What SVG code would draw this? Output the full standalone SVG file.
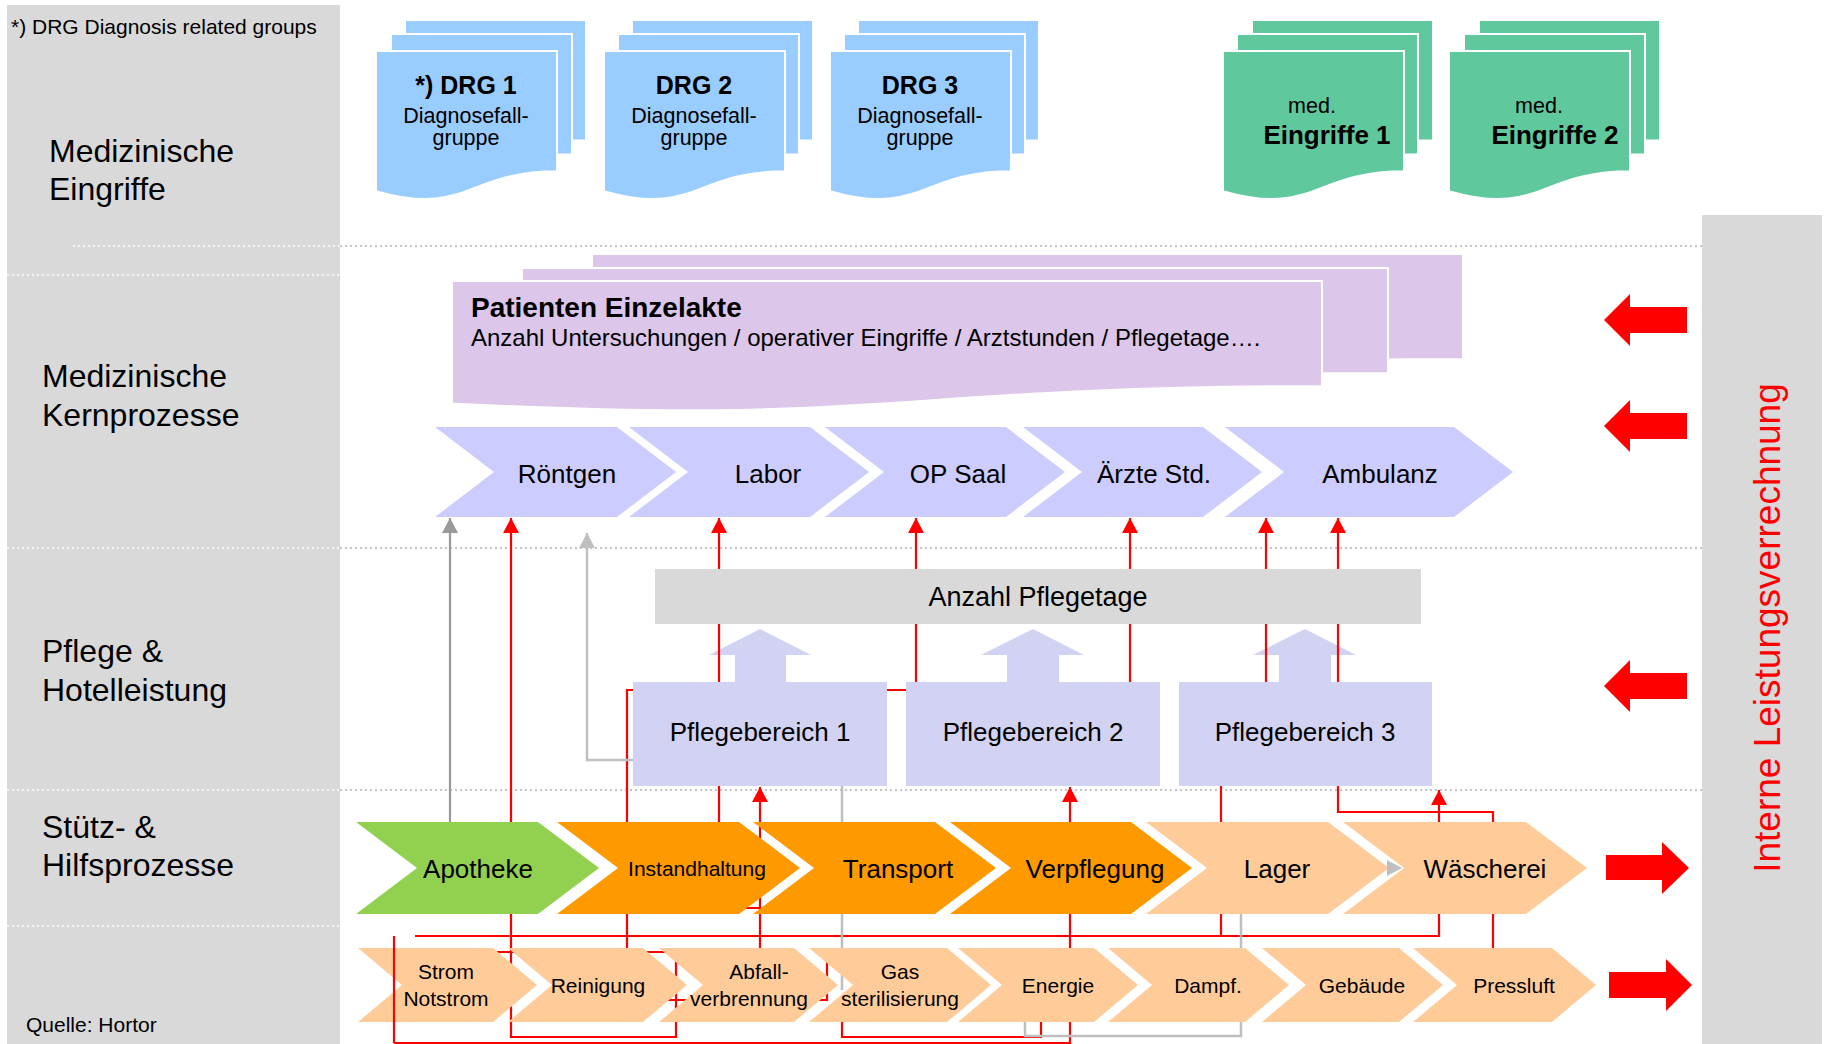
<svg xmlns="http://www.w3.org/2000/svg" width="1825" height="1044" viewBox="0 0 1825 1044">
<defs>
<style>
text{font-family:'Liberation Sans',Arial,Helvetica,sans-serif;fill:#000}
.lbl{font-size:32px}
.c{text-anchor:middle}
.b{font-weight:bold}
.dot{stroke-width:2;stroke-dasharray:2 3;fill:none}
.dw{stroke:#f4f4f4}
.dg{stroke:#c4c4c4}
.red{stroke:#ff0000;stroke-width:2.2;fill:none}
.gd{stroke:#999999;stroke-width:2.2;fill:none}
.gl{stroke:#bfbfbf;stroke-width:2.5;fill:none}
.blue{fill:#99ccff;stroke:#ffffff;stroke-width:2}
.green{fill:#5fc89c;stroke:#ffffff;stroke-width:2}
.purple{fill:#dcc6ea;stroke:#ffffff;stroke-width:2}
.core{fill:#ccccff}
.pb{fill:#d2d2f3}
.apo{fill:#92d050}
.ora{fill:#ff9900}
.pea{fill:#ffcc99}
.ra{fill:#ff0000}
.panel{fill:#d9d9d9}
</style>
<marker id="ar" viewBox="0 0 15 16" refX="15" refY="8" markerWidth="15" markerHeight="16" markerUnits="userSpaceOnUse" orient="auto"><path d="M0,0L15,8L0,16Z" fill="#ff0000"/></marker>
<marker id="ad" viewBox="0 0 15 16" refX="15" refY="8" markerWidth="15" markerHeight="16" markerUnits="userSpaceOnUse" orient="auto"><path d="M0,0L15,8L0,16Z" fill="#999999"/></marker>
<marker id="al" viewBox="0 0 15 16" refX="15" refY="8" markerWidth="15" markerHeight="16" markerUnits="userSpaceOnUse" orient="auto"><path d="M0,0L15,8L0,16Z" fill="#bfbfbf"/></marker>
</defs>

<rect width="1825" height="1044" fill="#ffffff"/>

<g id="panel-left">
<rect class="panel" x="7" y="5" width="333" height="1039"/>
<text x="11" y="34" font-size="21">*) DRG Diagnosis related groups</text>
<text class="lbl" x="49" y="162">Medizinische</text>
<text class="lbl" x="49" y="200">Eingriffe</text>
<text class="lbl" x="42" y="387">Medizinische</text>
<text class="lbl" x="42" y="426">Kernprozesse</text>
<text class="lbl" x="42" y="662">Pflege &amp;</text>
<text class="lbl" x="42" y="701">Hotelleistung</text>
<text class="lbl" x="42" y="838">Stütz- &amp;</text>
<text class="lbl" x="42" y="876">Hilfsprozesse</text>
<text x="26" y="1032" font-size="21">Quelle: Hortor</text>
</g>

<g id="panel-right">
<rect class="panel" x="1702" y="215" width="120" height="829"/>
<text transform="translate(1780,628) rotate(-90)" text-anchor="middle" font-size="37" style="fill:#ff0000">Interne Leistungsverrechnung</text>
</g>

<g id="separators">
<line class="dot dw" x1="73" y1="246" x2="340" y2="246"/>
<line class="dot dg" x1="340" y1="246" x2="1702" y2="246"/>
<line class="dot dw" x1="7" y1="275" x2="340" y2="275"/>
<line class="dot dw" x1="7" y1="548" x2="340" y2="548"/>
<line class="dot dg" x1="340" y1="548" x2="1702" y2="548"/>
<line class="dot dw" x1="7" y1="790" x2="340" y2="790"/>
<line class="dot dg" x1="340" y1="790" x2="1702" y2="790"/>
<line class="dot dw" x1="7" y1="926" x2="340" y2="926"/>
</g>

<g id="drg1">
<path class="blue" d="M405,20H586V140.3C495.5,140.3 495.5,186.1 405,160.1Z"/>
<path class="blue" d="M391,34H572V154.3C481.5,154.3 481.5,200.1 391,174.1Z"/>
<path class="blue" d="M376,51H557V171.3C466.5,171.3 466.5,217.1 376,191.1Z"/>
<text class="c b" x="466" y="94" font-size="25">*) DRG 1</text>
<text class="c" x="466" y="123" font-size="21.5">Diagnosefall-</text>
<text class="c" x="466" y="145" font-size="21.5">gruppe</text>
</g>
<g id="drg2">
<path class="blue" d="M632,20H813V140.3C722.5,140.3 722.5,186.1 632,160.1Z"/>
<path class="blue" d="M618,34H799V154.3C708.5,154.3 708.5,200.1 618,174.1Z"/>
<path class="blue" d="M604,51H785V171.3C694.5,171.3 694.5,217.1 604,191.1Z"/>
<text class="c b" x="694" y="94" font-size="25">DRG 2</text>
<text class="c" x="694" y="123" font-size="21.5">Diagnosefall-</text>
<text class="c" x="694" y="145" font-size="21.5">gruppe</text>
</g>
<g id="drg3">
<path class="blue" d="M858,20H1039V140.3C948.5,140.3 948.5,186.1 858,160.1Z"/>
<path class="blue" d="M844,34H1025V154.3C934.5,154.3 934.5,200.1 844,174.1Z"/>
<path class="blue" d="M830,51H1011V171.3C920.5,171.3 920.5,217.1 830,191.1Z"/>
<text class="c b" x="920" y="94" font-size="25">DRG 3</text>
<text class="c" x="920" y="123" font-size="21.5">Diagnosefall-</text>
<text class="c" x="920" y="145" font-size="21.5">gruppe</text>
</g>
<g id="eingriffe1">
<path class="green" d="M1252,20H1433V140.3C1342.5,140.3 1342.5,186.1 1252,160.1Z"/>
<path class="green" d="M1237,34H1418V154.3C1327.5,154.3 1327.5,200.1 1237,174.1Z"/>
<path class="green" d="M1223,51H1404V171.3C1313.5,171.3 1313.5,217.1 1223,191.1Z"/>
<text class="c" x="1312" y="113" font-size="21.5">med.</text>
<text class="c b" x="1327" y="144" font-size="26">Eingriffe 1</text>
</g>
<g id="eingriffe2">
<path class="green" d="M1479,20H1660V140.3C1569.5,140.3 1569.5,186.1 1479,160.1Z"/>
<path class="green" d="M1464,34H1645V154.3C1554.5,154.3 1554.5,200.1 1464,174.1Z"/>
<path class="green" d="M1449,51H1630V171.3C1539.5,171.3 1539.5,217.1 1449,191.1Z"/>
<text class="c" x="1539" y="113" font-size="21.5">med.</text>
<text class="c b" x="1555" y="144" font-size="26">Eingriffe 2</text>
</g>

<g id="patientenakte">
<path class="purple" d="M592,254H1463V359.1C1027.5,359.1 1027.5,399.1 592,376.4Z"/>
<path class="purple" d="M522,268H1388V373.1C955,373.1 955,413.1 522,390.4Z"/>
<path class="purple" d="M452,281H1322V386.1C887,386.1 887,426.1 452,403.4Z"/>
<text class="b" x="471" y="317" font-size="28">Patienten Einzelakte</text>
<text x="471" y="346" font-size="24">Anzahl Untersuchungen / operativer Eingriffe / Arztstunden / Pflegetage….</text>
</g>

<g id="pflege-pfeile">
<polygon class="pb" points="760,629 811,655 786,655 786,683 735,683 735,655 709,655"/>
<polygon class="pb" points="1033,629 1084,655 1059,655 1059,683 1007,683 1007,655 981,655"/>
<polygon class="pb" points="1305,629 1356,655 1331,655 1331,683 1279,683 1279,655 1253,655"/>
</g>

<g id="connectors">
<path class="red" d="M495,952H676V1037H511V518" marker-end="url(#ar)"/>
<path class="red" d="M415,936H1439V790" marker-end="url(#ar)"/>
<path class="red" d="M1221,786V936"/>
<path class="red" d="M1493,948V812H1338V518" marker-end="url(#ar)"/>
<path class="red" d="M1266,720V518" marker-end="url(#ar)"/>
<path class="red" d="M1130,720V518" marker-end="url(#ar)"/>
<path class="red" d="M627,985V690H916V518" marker-end="url(#ar)"/>
<path class="red" d="M760,948V787" marker-end="url(#ar)"/>
<path class="red" d="M760,908H719V518" marker-end="url(#ar)"/>
<path class="red" d="M1041,1022V1037H842V1022"/>
<path class="red" d="M827,955V1000H655"/>
<path class="red" d="M394,1043H1070V787" marker-end="url(#ar)"/>
<path class="gd" d="M450,822V518" marker-end="url(#ad)"/>
<path class="gl" d="M633,760H587V533" marker-end="url(#al)"/>
<path class="gl" d="M842,786V990"/>
<path class="gl" d="M1241,914V1036H1025V1022"/>
</g>

<g id="kernprozesse">
<g id="roentgen"><polygon class="core" points="435,427 617,427 676,472 617,517 435,517 494,472"/><text class="c" x="567" y="483" font-size="26">Röntgen</text></g>
<g id="labor"><polygon class="core" points="629,427 810,427 869,472 810,517 629,517 688,472"/><text class="c" x="768" y="483" font-size="26">Labor</text></g>
<g id="opsaal"><polygon class="core" points="825,427 1006,427 1065,472 1006,517 825,517 884,472"/><text class="c" x="958" y="483" font-size="26">OP Saal</text></g>
<g id="aerzte"><polygon class="core" points="1023,427 1203,427 1262,472 1203,517 1023,517 1082,472"/><text class="c" x="1154" y="483" font-size="26">Ärzte Std.</text></g>
<g id="ambulanz"><polygon class="core" points="1225,427 1454,427 1513,472 1454,517 1225,517 1284,472"/><text class="c" x="1380" y="483" font-size="26">Ambulanz</text></g>
</g>

<g id="pflegetage">
<rect x="655" y="569" width="766" height="55" fill="#d9d9d9"/>
<text class="c" x="1038" y="606" font-size="27">Anzahl Pflegetage</text>
</g>
<g id="pflegebereich1"><rect class="pb" x="633" y="682" width="254" height="104"/><text class="c" x="760" y="741" font-size="26">Pflegebereich 1</text></g>
<g id="pflegebereich2"><rect class="pb" x="906" y="682" width="254" height="104"/><text class="c" x="1033" y="741" font-size="26">Pflegebereich 2</text></g>
<g id="pflegebereich3"><rect class="pb" x="1179" y="682" width="253" height="104"/><text class="c" x="1305" y="741" font-size="26">Pflegebereich 3</text></g>

<g id="stuetzprozesse">
<g id="apotheke"><polygon class="apo" points="356,822 538,822 599,868 538,914 356,914 417,868"/><text class="c" x="478" y="878" font-size="26">Apotheke</text></g>
<g id="instandhaltung"><polygon class="ora" points="557,822 739,822 800,868 739,914 557,914 618,868"/><text class="c" x="697" y="876" font-size="21">Instandhaltung</text></g>
<g id="transport"><polygon class="ora" points="753,822 935,822 996,868 935,914 753,914 814,868"/><text class="c" x="898" y="878" font-size="26">Transport</text></g>
<g id="verpflegung"><polygon class="ora" points="950,822 1131,822 1192,868 1131,914 950,914 1011,868"/><text class="c" x="1095" y="878" font-size="26">Verpflegung</text></g>
<g id="lager"><polygon class="pea" points="1146,822 1328,822 1389,868 1328,914 1146,914 1207,868"/><text class="c" x="1277" y="878" font-size="26">Lager</text></g>
<g id="waescherei"><polygon class="pea" points="1343,822 1526,822 1587,868 1526,914 1343,914 1404,868"/><text class="c" x="1485" y="878" font-size="26">Wäscherei</text></g>
<polygon points="1387,860 1402,868 1387,876" fill="#bfbfbf"/>
</g>

<g id="infrastruktur">
<g id="strom"><polygon class="pea" points="358,948 493,948 537,985 493,1022 358,1022 402,985"/><text class="c" x="446" y="979" font-size="21">Strom</text><text class="c" x="446" y="1006" font-size="21">Notstrom</text></g>
<g id="reinigung"><polygon class="pea" points="508,948 643,948 687,985 643,1022 508,1022 552,985"/><text class="c" x="598" y="993" font-size="21">Reinigung</text></g>
<g id="abfall"><polygon class="pea" points="659,948 794,948 838,985 794,1022 659,1022 703,985"/><text class="c" x="759" y="979" font-size="21">Abfall-</text><text class="c" x="749" y="1006" font-size="21">verbrennung</text></g>
<g id="gas"><polygon class="pea" points="809,948 947,948 991,985 947,1022 809,1022 853,985"/><text class="c" x="900" y="979" font-size="21">Gas</text><text class="c" x="900" y="1006" font-size="21">sterilisierung</text></g>
<g id="energie"><polygon class="pea" points="958,948 1094,948 1138,985 1094,1022 958,1022 1002,985"/><text class="c" x="1058" y="993" font-size="21">Energie</text></g>
<g id="dampf"><polygon class="pea" points="1108,948 1245,948 1289,985 1245,1022 1108,1022 1152,985"/><text class="c" x="1208" y="993" font-size="21">Dampf.</text></g>
<g id="gebaeude"><polygon class="pea" points="1262,948 1399,948 1443,985 1399,1022 1262,1022 1306,985"/><text class="c" x="1362" y="993" font-size="21">Gebäude</text></g>
<g id="pressluft"><polygon class="pea" points="1413,948 1552,948 1596,985 1552,1022 1413,1022 1457,985"/><text class="c" x="1514" y="993" font-size="21">Pressluft</text></g>
</g>

<g id="connectors-front">
<path class="red" d="M394,936V1043"/>
</g>

<g id="leistungspfeile">
<polygon class="ra" points="1604,320 1630,294 1630,307 1687,307 1687,333 1630,333 1630,346"/>
<polygon class="ra" points="1604,426 1630,400 1630,413 1687,413 1687,439 1630,439 1630,452"/>
<polygon class="ra" points="1604,686 1630,660 1630,673 1687,673 1687,699 1630,699 1630,712"/>
<polygon class="ra" points="1606,855 1662,855 1662,842 1689,868 1662,894 1662,880 1606,880"/>
<polygon class="ra" points="1609,972 1666,972 1666,959 1692,985 1666,1011 1666,998 1609,998"/>
</g>
</svg>
